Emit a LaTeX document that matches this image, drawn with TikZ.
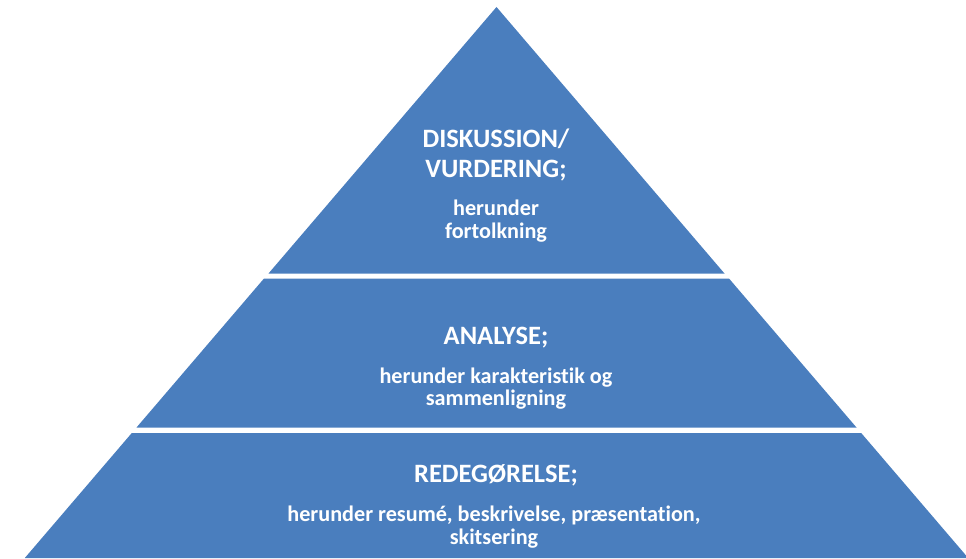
\documentclass[tikz,border=0pt]{standalone}
\usepackage{fontspec}
\setmainfont[Ligatures=CommonOff]{Carlito}
\definecolor{pyrblue}{HTML}{4A7EBE}
\begin{document}
\begin{tikzpicture}[x=1pt,y=1pt,tier/.style={fill=pyrblue},
    head/.style={text=white,align=center,font=\bfseries\fontsize{26.5}{30}\selectfont},
    sub/.style={text=white,align=center,font=\bfseries\fontsize{22.2}{22.5}\selectfont}]
        \useasboundingbox(0,0)rectangle(966,558);
        \fill[tier](496.5,551)--(268.5,284.5)--(724.5,284.5)--cycle;
        \fill[tier](264,279.5)--(729,279.5)--(856.5,130.5)--(136.5,130.5)--cycle;
        \fill[tier](131.8,125)--(861.2,125)--(968.2,0)--(24.8,0)--cycle;
        \node[head](diskhead)at(496,403){DISKUSSION/\\VURDERING;};
        \node[sub](disksub)at(496,337){herunder\\fortolkning};
        \node[head](anahead)at(496,220){ANALYSE;};
        \node[sub](anasub)at(496,169.5){herunder karakteristik og\\sammenligning};
        \node[head](redhead)at(496,83){REDEGØRELSE;};
        \node[sub](redsub)at(494,31){herunder resumé, beskrivelse, præsentation,\\skitsering};
    \end{tikzpicture}
\end{document}
